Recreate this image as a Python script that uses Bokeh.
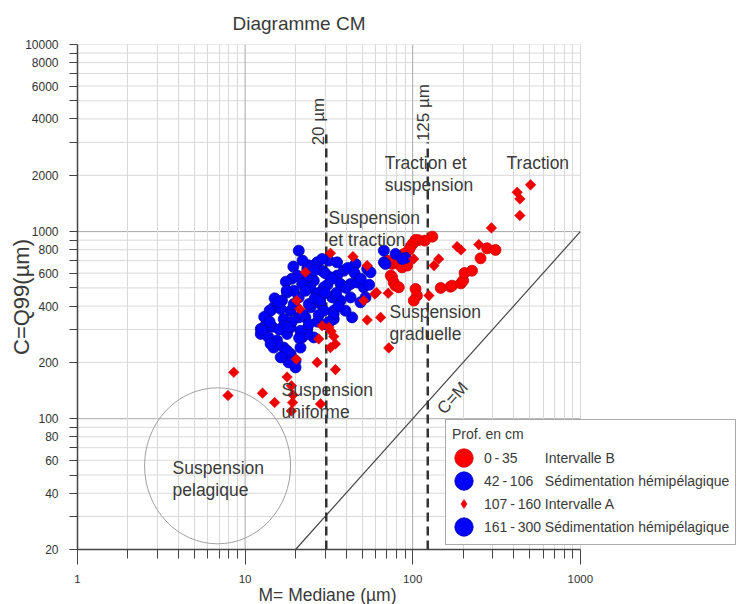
import math
from bokeh.plotting import figure
from bokeh.models import (FixedTicker, Legend, LegendItem, Label, ColumnDataSource,
                          NumeralTickFormatter, Range1d, Title)
from bokeh.core.properties import value
from bokeh.embed import file_html
from bokeh.resources import INLINE

FONT = "Liberation Sans"
TXT = "#3a3a3a"

# ---------------- data (M = median µm, C = Q99 µm) ----------------
legend_ranges = ["0\u2009-\u200935", "42\u2009-\u2009106", "107\u2009-\u2009160", "161\u2009-\u2009300"]
legend_names = ["Intervalle B", "Sédimentation hémipélagique", "Intervalle A", "Sédimentation hémipélagique"]

# 0 - 35 cm  (red circles)
red_circle_pts = [(131, 940), (118, 895), (108, 900), (104, 903), (100, 860), (97, 831), (95, 798),
                  (88.6, 760), (80.8, 744), (70.4, 700), (75.4, 672), (77, 685), (82.6, 672),
                  (86.5, 644), (92.7, 658), (74, 582), (75.4, 570), (77, 535), (79, 514),
                  (82.6, 504), (104, 494), (106, 455), (101.5, 428), (147, 500), (168, 508),
                  (172, 514), (194, 529), (200, 547), (204, 601), (226, 618), (254, 720),
                  (278, 814), (312, 798)]

# 42 - 106 cm (blue circles)
blue_a_pts = [(20.9, 791), (26.9, 685), (31.6, 700), (35.4, 685), (19.4, 650), (23.5, 631),
              (28.8, 618), (38.8, 618), (45.6, 672), (53.5, 631), (56.0, 606), (67.3, 791),
              (79.0, 760), (90.6, 724), (67.3, 685), (86.5, 714), (68.8, 672), (28.8, 714),
              (35.4, 582), (25.7, 547), (32.3, 570), (29.5, 504), (37.1, 525), (42.6, 525),
              (46.6, 535), (51.0, 504), (52.3, 445), (42.6, 445), (37.1, 428), (33.1, 445),
              (48.8, 419), (23.5, 570), (20.5, 582), (21.9, 525), (24.0, 660), (30.0, 600),
              (26.0, 620), (41.0, 640), (45.0, 600), (49.0, 560), (55.0, 520), (40.0, 500),
              (35.0, 470), (31.0, 520), (22.0, 700), (19.0, 560), (17.5, 540), (24.5, 500),
              (27.5, 470), (33.0, 560)]

# 107 - 160 cm (red diamonds)
red_diamond_pts = [(8.56, 177), (7.9, 133), (12.7, 137), (15.0, 122), (17.8, 167), (18.9, 150),
                   (19.3, 134), (19.2, 122), (18.9, 110), (20.2, 208), (26.9, 200), (28.2, 120),
                   (28.8, 314), (27.5, 267), (32.6, 293), (33.8, 275), (34.6, 251), (32.3, 240),
                   (34.6, 183), (72, 239), (32.3, 766), (44, 735), (53.5, 658), (59.4, 464),
                   (71.4, 468), (51, 428), (53.5, 337), (64.3, 348), (31.6, 308), (22.9, 606),
                   (60.8, 473), (20.3, 428), (21.2, 386), (101.5, 714), (505, 1778), (420, 1622),
                   (436, 1496), (436, 1219), (295, 1047), (184, 831), (194, 798), (248, 852),
                   (143, 714), (134, 658), (125, 455)]

# 161 - 300 cm (blue circles)
blue_b_pts = [(33.8, 378), (43.5, 348), (24.6, 394), (28.2, 411), (18.7, 378), (16.6, 428),
              (20.9, 445), (14.8, 394), (14.2, 378), (13.5, 327), (12.9, 289), (12.4, 284),
              (13.8, 272), (15.5, 262), (17.0, 240), (18.7, 222), (20.0, 204), (18.2, 200),
              (16.6, 213), (14.8, 240), (17.8, 284), (18.7, 308), (21.9, 272), (23.5, 302),
              (20.9, 348), (17.0, 341), (22.9, 348), (19.5, 483), (22.9, 483), (17.8, 473),
              (26.9, 464), (29.5, 378), (33.8, 341), (39.7, 378), (33.8, 363), (17.7, 483),
              (14.0, 378), (16.3, 386), (27.5, 358), (12.4, 302), (15.5, 251), (17.8, 231),
              (21.4, 240), (20.0, 188), (16.3, 213), (14.2, 251), (25.7, 272), (23.5, 284),
              (21.4, 295), (17.0, 314), (13.2, 314), (14.5, 310), (16.0, 300), (19.0, 330),
              (22.0, 360), (24.0, 410), (26.0, 440), (28.0, 430), (30.0, 470), (15.0, 440),
              (13.0, 350), (12.6, 300), (18.0, 310), (21.0, 270), (24.0, 320), (27.0, 330),
              (30.0, 320), (32.0, 330), (36.0, 400), (19.5, 410), (15.8, 420), (14.0, 330)]

# reference lines
line_20_x = [30.5, 30.5]
line_20_y = [20, 3500]
line_125_x = [123, 123]
line_125_y = [20, 3000]
cm_x = [20, 1000]
cm_y = [20, 1000]
pelagic_center = (6.85, 56)

# zone annotations (top-left anchor)
zone_text = ["Suspension\net traction", "Traction et\nsuspension", "Traction",
             "Suspension\ngraduelle", "Suspension\nuniforme", "Suspension\npelagique"]
zone_x = [31.5, 68, 363, 72.7, 16.5, 3.69]
zone_y = [1330, 2640, 2640, 420, 162, 62]

# ticks / grid
x_min, x_max = 1, 1000
y_min, y_max = 20, 10000
x_major = [1, 10, 100, 1000]
x_minor = [m * d for d in (1, 10, 100) for m in range(2, 10)]
y_major = [20, 40, 60, 80, 100, 200, 400, 600, 800, 1000, 2000, 4000, 6000, 8000, 10000]
y_minor = [m * d for d in (10, 100, 1000) for m in range(2, 10) if m * d >= 20]
x_grid = [m * d for d in (1, 10, 100) for m in range(2, 10)] + [1000]
y_grid = [m * d for d in (10, 100, 1000) for m in range(2, 10) if m * d > 20] + [10000]
x_grid_dark = [10, 100]
y_grid_dark = [100, 1000]


def src(pts):
    return ColumnDataSource(dict(x=[p[0] for p in pts], y=[p[1] for p in pts]))


# frame: x 1..1000 spans 77..580 px; canvas continues to the right for the legend
X_END = 10 ** ((743 - 77) / 167.6)

p = figure(width=743, height=604, x_axis_type="log", y_axis_type="log",
           x_range=Range1d(x_min, X_END), y_range=Range1d(y_min, y_max),
           output_backend="svg", toolbar_location=None,
           min_border_left=77, min_border_right=0, min_border_top=44, min_border_bottom=55,
           background_fill_color="white", border_fill_color="white")
p.outline_line_color = None

# title
p.title.text = "Diagramme CM"
p.title.text_font = FONT
p.title.text_font_size = "19px"
p.title.text_font_style = "normal"
p.title.text_color = TXT
p.title.align = "left"
p.title.offset = 155
p.title.standoff = 21

# grids: vertical lines via grid, horizontal lines stop at x = 1000
p.xgrid.ticker = FixedTicker(ticks=x_grid)
p.xgrid.grid_line_color = "#d9d9d9"
p.ygrid.visible = False
p.segment(x0=x_min, x1=x_max, y0=y_grid, y1=y_grid, line_color="#d9d9d9", line_width=1, level="underlay")
p.segment(x0=x_min, x1=x_max, y0=y_grid_dark, y1=y_grid_dark, line_color="#a8a8a8", line_width=1,
          level="underlay")
p.segment(x0=x_grid_dark, x1=x_grid_dark, y0=y_min, y1=y_max, line_color="#a8a8a8", line_width=1,
          level="underlay")

# axes
p.xaxis.ticker = FixedTicker(ticks=x_major, minor_ticks=x_minor)
p.yaxis.ticker = FixedTicker(ticks=y_major, minor_ticks=y_minor)
p.xaxis.bounds = (x_min, x_max)
for ax in (p.xaxis, p.yaxis):
    ax.formatter = NumeralTickFormatter(format="0")
    ax.major_tick_in = 0
    ax.minor_tick_in = 0
    ax.axis_line_color = "#444444"
    ax.axis_line_width = 1.5
    ax.major_tick_line_color = "#444444"
    ax.minor_tick_line_color = "#444444"
    ax.major_label_text_font = FONT
    ax.major_label_text_color = "#333333"
    ax.axis_label_text_font = FONT
    ax.axis_label_text_font_style = "normal"
    ax.axis_label_text_color = TXT

p.xaxis.major_tick_out = 15
p.xaxis.minor_tick_out = 9
p.xaxis.major_label_text_font_size = "11.5px"
p.xaxis.major_label_standoff = 10

p.yaxis.major_tick_out = 8
p.yaxis.minor_tick_out = 8
p.yaxis.major_label_text_font_size = "12px"
p.yaxis.major_label_standoff = 11
p.yaxis.axis_label = "C=Q99(µm)"
p.yaxis.axis_label_text_font_size = "22px"
p.yaxis.axis_label_standoff = -12

p.add_layout(Title(text="M= Mediane (µm)", align="left", offset=181, standoff=-5,
                   text_font=FONT, text_font_size="17.5px", text_font_style="normal",
                   text_color=TXT), "below")

# reference lines and zones
p.line(cm_x, cm_y, line_color="#444444", line_width=1.2)
p.line(line_20_x, line_20_y, line_color="#333333", line_width=2.5, line_dash="9 5")
p.line(line_125_x, line_125_y, line_color="#333333", line_width=2.5, line_dash="9 5")
p.ellipse(x=[pelagic_center[0]], y=[pelagic_center[1]], width=146, height=156,
          width_units="screen", height_units="screen",
          fill_color=None, line_color="#a0a0a0", line_width=1)

# data
diamond_src = src(red_diamond_pts)
r_red_c = p.ellipse(x="x", y="y", width=11, height=11, width_units="screen", height_units="screen",
                    source=src(red_circle_pts), fill_color="#ff0000", line_color="#cc0000", line_width=0.8)
r_blue_a = p.ellipse(x="x", y="y", width=11, height=11, width_units="screen", height_units="screen",
                     source=src(blue_a_pts), fill_color="#0000ff", line_color="#0000a8", line_width=0.8)
r_blue_b = p.ellipse(x="x", y="y", width=11, height=11, width_units="screen", height_units="screen",
                     source=src(blue_b_pts), fill_color="#0000ff", line_color="#0000a8", line_width=0.8)
# diamond-marker renderer (hidden under the rotated squares) provides the legend swatch
r_red_d_key = p.scatter(x="x", y="y", marker="diamond", size=8, source=diamond_src,
                        fill_color="#ee0000", line_color="#dd0000", line_width=0.5)
r_red_d = p.scatter(x="x", y="y", marker="square", angle=math.pi / 4, size=7.5,
                    source=diamond_src, fill_color="#ee0000", line_color="#dd0000", line_width=0.5)

# zone labels
p.text(x=zone_x, y=zone_y, text=zone_text, text_font=value(FONT), text_font_size="17.5px",
       text_color=TXT, text_align="left", text_baseline="top", text_line_height=1.1)

p.add_layout(Label(x=27.4, y=3874, text="20 µm", angle=math.pi / 2, text_align="center",
                   text_baseline="middle", text_font=FONT, text_font_size="17px", text_color=TXT))
p.add_layout(Label(x=116, y=4326, text="125 µm", angle=math.pi / 2, text_align="center",
                   text_baseline="middle", text_font=FONT, text_font_size="17px", text_color=TXT))
p.add_layout(Label(x=173, y=129, text="C=M", angle=0.84, text_align="center",
                   text_baseline="middle", text_font=FONT, text_font_size="17px", text_color=TXT))

# legend
pads = [7, 3, 1, 1]
labels = [legend_ranges[i] + "\u00a0" * pads[i] + legend_names[i] for i in range(4)]
legend = Legend(items=[LegendItem(label=labels[0], renderers=[r_red_c]),
                       LegendItem(label=labels[1], renderers=[r_blue_a]),
                       LegendItem(label=labels[2], renderers=[r_red_d_key]),
                       LegendItem(label=labels[3], renderers=[r_blue_b])],
                location=(368, 4), title="Prof. en cm",
                title_text_font=FONT, title_text_font_size="14px", title_text_font_style="normal",
                title_text_color=TXT, title_standoff=4,
                label_text_font=FONT, label_text_font_size="14px", label_text_color=TXT,
                glyph_width=23, glyph_height=23, label_standoff=9, spacing=0, padding=6, margin=0,
                border_line_color="#555555", border_line_width=1.5, background_fill_color="white",
                background_fill_alpha=1.0)
p.add_layout(legend)

open("out.html", "w").write(file_html(p, INLINE))
